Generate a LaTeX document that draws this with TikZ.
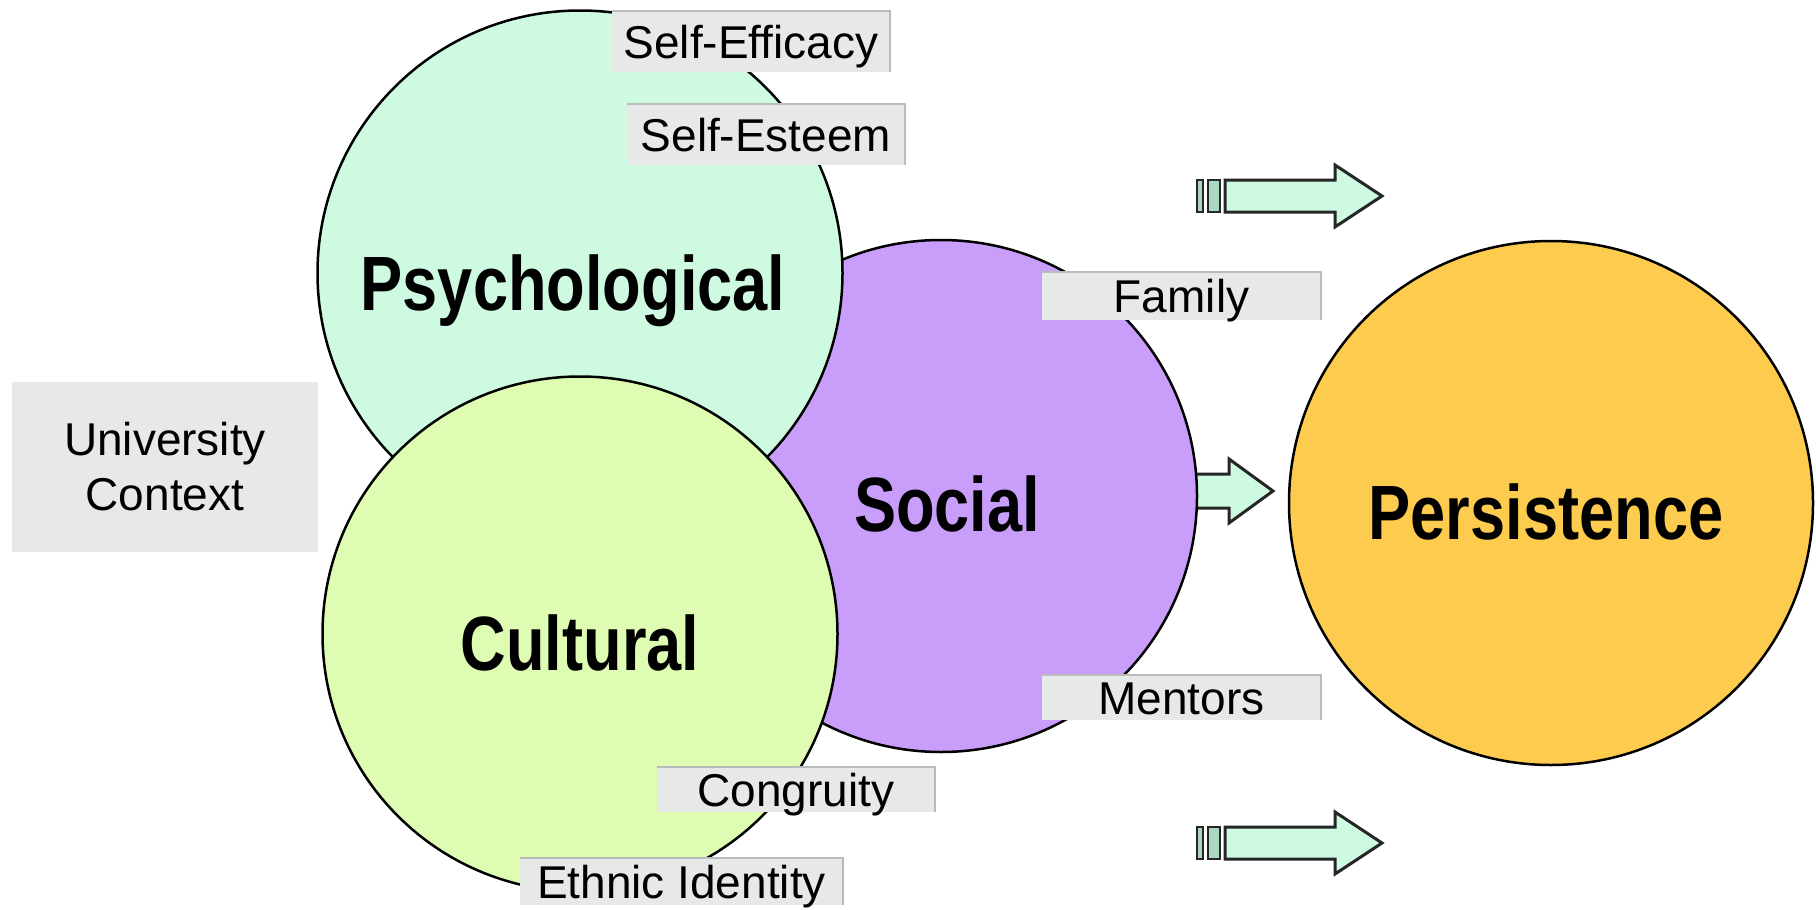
\documentclass[tikz,border=0pt]{standalone}
\usepackage{fontspec}
\setmainfont{Liberation Sans}
\definecolor{psychfill}{RGB}{205,250,225}
\definecolor{cultfill}{RGB}{222,252,178}
\definecolor{socfill}{RGB}{200,158,250}
\definecolor{persfill}{RGB}{253,204,78}
\definecolor{lblfill}{RGB}{231,233,233}
\definecolor{lbledge}{RGB}{185,188,188}
\definecolor{barfill}{RGB}{170,215,190}
\tikzset{
  circ/.style={circle, draw=black, line width=2.5pt, inner sep=0pt},
  bigtxt/.style={anchor=base, inner sep=0pt, font=\fontsize{77}{80}\selectfont\bfseries},
  lbl/.style={fill=lblfill, inner sep=0pt, text height=33pt, text depth=0pt,
              font=\fontsize{46}{55}\selectfont},
  lbledgeline/.style={draw=lbledge, line width=2pt},
  blockarrow/.style={draw=black!85, fill=psychfill, line width=3pt, line join=miter},
  barbox/.style={draw=black!85, fill=barfill, line width=2.5pt}
}
\begin{document}
\begin{tikzpicture}[x=1pt,y=-1pt]
\useasboundingbox (0,0) rectangle (1816,910);
% arrows
\draw[blockarrow] (1225,180) -- (1335,180) -- (1335,165) -- (1382,196) -- (1335,227) -- (1335,212) -- (1225,212) -- cycle;
\draw[barbox] (1197,180) rectangle (1203,212);
\draw[barbox] (1208,180) rectangle (1220,212);
\draw[blockarrow] (1225,827) -- (1335,827) -- (1335,812) -- (1382,843) -- (1335,874) -- (1335,859) -- (1225,859) -- cycle;
\draw[barbox] (1197,827) rectangle (1203,859);
\draw[barbox] (1208,827) rectangle (1220,859);
\draw[blockarrow] (1170,474) -- (1229,474) -- (1229,459) -- (1273,491) -- (1229,523) -- (1229,508) -- (1170,508) -- cycle;
% circles
\node[circ, fill=socfill, minimum size=512pt] (soc) at (941,496) {};
\node[circ, fill=psychfill, minimum size=525pt] (psy) at (580,273) {};
\node[circ, fill=cultfill, minimum size=515pt] (cul) at (580,634) {};
\node[circ, fill=persfill, minimum size=524pt] (per) at (1551,503) {};
% big texts
\node[bigtxt] (psytxt) at (573,310) {\scalebox{0.82}[1]{Psychological}};
\node[bigtxt] (soctxt) at (947,531) {\scalebox{0.82}[1]{Social}};
\node[bigtxt] (cultxt) at (580,670) {\scalebox{0.82}[1]{Cultural}};
\node[bigtxt] (pertxt) at (1546,539) {\scalebox{0.82}[1]{Persistence}};
% labels
\node[lbl, minimum width=278pt, minimum height=61pt] (eff) at (751,41.5) {Self-Efficacy};
\node[lbl, minimum width=278pt, minimum height=61pt] (est) at (766,134.5) {Self-Esteem};
\node[lbl, minimum width=279pt, minimum height=48pt] (fam) at (1181.5,296) {Family};
\node[lbl, minimum width=279pt, minimum height=45pt] (men) at (1181.5,697.5) {Mentors};
\node[lbl, minimum width=278pt, minimum height=45pt] (con) at (796,789.5) {Congruity};
\node[lbl, minimum width=323pt, minimum height=47pt] (eth) at (681.5,881.5) {Ethnic Identity};
\node[fill=lblfill, inner sep=0pt, minimum width=306pt, minimum height=170pt, align=center,
      font=\fontsize{46}{55}\selectfont] (uni) at (165,467) {University\\Context};
\foreach \n in {eff,est,fam,men,con,eth}
  \draw[lbledgeline] (\n.north west) -- (\n.north east) -- (\n.south east);
\end{tikzpicture}
\end{document}
